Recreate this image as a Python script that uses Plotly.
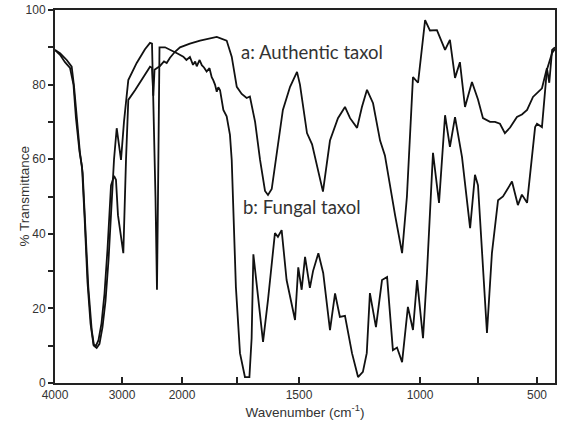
import numpy as np
import plotly.graph_objects as go

# Axis break: piecewise scale (wavenumber -> position along axis)
axis_knots_wn = [4000, 3000, 2000, 1750, 1500, 1000, 750, 500, 400]
axis_knots_pos = [0, 67, 127, 182, 244, 365, 423, 482, 505.6]

tick_values = [4000, 3000, 2000, 1500, 1000, 500]
tick_labels = ["4000", "3000", "2000", "1500", "1000", "500"]
minor_tick_values = [1750, 750]

y_tick_values = [0, 20, 40, 60, 80, 100]
y_minor_values = [10, 30, 50, 70, 90]

# a: Authentic taxol
wn_a = [4000, 3925, 3851, 3776, 3724, 3687, 3634, 3597, 3560, 3515, 3470, 3425, 3388, 3351,
        3306, 3261, 3216, 3164, 3119, 3090, 3060, 2978, 2933, 2895, 2783, 2667, 2533, 2500,
        2478, 2458, 2367, 2300, 2255, 2200, 2117, 2033, 1964, 1918, 1873, 1842, 1797, 1774, 1751, 1731,
        1711, 1698, 1677, 1657, 1637, 1625, 1610, 1590, 1565, 1536, 1508, 1496, 1467, 1446,
        1401, 1372, 1339, 1310, 1289, 1260, 1240, 1219, 1194, 1165, 1145, 1103, 1074, 1054,
        1029, 1008, 978, 957, 927, 892, 871, 849, 828, 806, 776, 750, 729, 699, 678, 657,
        636, 614, 585, 564, 542, 517, 479, 458, 448, 436, 424]
t_a = [89.3, 88.0, 86.0, 84.5, 80.0, 71.0, 62.0, 58.0, 45.0, 27.0, 16.0, 10.2, 10.0, 11.5,
       16.0, 24.0, 36.0, 53.0, 55.5, 54.5, 45.0, 34.8, 60.0, 75.9, 78.5, 81.5, 84.8, 84.5,
       77.0, 84.0, 85.0, 86.2, 85.8, 87.2, 88.8, 90.0, 91.0, 91.8, 92.5, 92.8, 91.8, 87.5, 79.4, 77.5,
       76.4, 76.8, 70.0, 59.8, 51.5, 50.4, 52.0, 61.6, 73.2, 79.4, 83.4, 80.0, 67.0, 64.0,
       51.3, 65.0, 71.0, 74.0, 71.0, 68.4, 74.0, 78.6, 75.0, 65.0, 61.0, 45.0, 34.8, 50.0,
       82.0, 80.5, 97.3, 94.5, 94.6, 89.3, 92.0, 81.8, 86.0, 74.0, 80.7, 76.0, 71.0, 70.0,
       70.0, 69.5, 67.0, 68.5, 71.3, 72.0, 73.2, 76.7, 79.0, 84.4, 80.5, 89.3, 90.0]

# b: Fungal taxol
wn_b = [4000, 3925, 3825, 3751, 3716, 3676, 3627, 3587, 3552, 3503, 3452, 3418, 3378, 3336,
        3291, 3246, 3201, 3154, 3119, 3079, 3045, 3015, 2967, 2895, 2755, 2617, 2533, 2500,
        2442, 2417, 2400, 2375, 2283, 2117, 2083, 1994, 1980, 1964, 1950, 1940, 1933, 1920, 1910,
        1900, 1888, 1875, 1865, 1858, 1850, 1842, 1835,
        1827, 1812, 1797, 1782, 1774, 1767, 1755, 1738, 1718, 1700, 1691, 1684, 1665, 1645,
        1625, 1597, 1585, 1570, 1550, 1528, 1516, 1503, 1489, 1475, 1455, 1442, 1420, 1400,
        1372, 1351, 1331, 1310, 1281, 1256, 1236, 1220, 1207, 1182, 1157, 1136, 1112, 1095,
        1074, 1050, 1029, 1012, 987, 970, 944, 918, 892, 871, 849, 819, 784, 763, 750, 712,
        691, 665, 644, 606, 581, 564, 542, 508, 500, 479, 458, 436, 424]
t_b = [89.3, 88.4, 86.6, 84.8, 79.5, 70.5, 61.6, 56.3, 43.7, 25.7, 14.2, 10.0, 9.4, 10.5,
       15.0, 22.0, 33.0, 50.9, 60.0, 68.3, 64.0, 59.8, 70.0, 81.2, 85.8, 89.5, 91.2, 91.0,
       50.0, 25.0, 50.0, 90.0, 90.0, 88.8, 88.4, 87.5, 86.6, 87.4, 85.3, 86.2, 84.9, 86.6, 85.2,
       84.6, 83.5, 84.4, 82.0, 81.2, 80.0, 78.1, 79.3,
       78.5, 73.2, 71.5, 66.5, 59.8, 47.3, 25.7, 8.0, 1.6, 1.6, 12.0, 34.5, 22.3, 11.0,
       22.3, 40.2, 39.2, 41.0, 27.6, 20.4, 16.9, 31.0, 25.0, 33.8, 25.5, 30.0, 34.8, 29.5,
       14.2, 24.0, 17.7, 18.0, 8.0, 1.6, 3.0, 8.0, 24.1, 15.0, 27.6, 28.4, 8.8, 9.5,
       5.6, 20.4, 14.2, 27.6, 12.0, 29.5, 61.7, 48.3, 71.8, 63.3, 71.3, 60.6, 41.5, 55.8, 53.0, 13.4,
       34.8, 49.0, 50.0, 54.0, 47.7, 50.5, 48.3, 68.6, 69.5, 68.6, 84.0, 88.5, 89.5]


def to_pos(wn):
    wn = np.asarray(wn, dtype=float)
    return np.interp(-wn, -np.array(axis_knots_wn, dtype=float), axis_knots_pos)


fig = go.Figure()
for wn, t in [(wn_a, t_a), (wn_b, t_b)]:
    fig.add_trace(go.Scatter(x=to_pos(wn), y=t, mode="lines",
                             line=dict(color="#111111", width=1.8),
                             showlegend=False, hoverinfo="skip"))

tick_font = dict(family="Liberation Sans, Arial, sans-serif", size=12, color="#333333")
title_font = dict(family="Liberation Sans, Arial, sans-serif", size=13.5, color="#333333")
label_font = dict(family="Lato, sans-serif", size=18.5, color="#333333")

fig.update_layout(
    width=561, height=424,
    margin=dict(l=55, r=6, t=10, b=41),
    paper_bgcolor="white", plot_bgcolor="white",
    xaxis=dict(range=[0, 500], tickmode="array", tickvals=to_pos(tick_values).tolist(),
               ticktext=tick_labels, ticks="inside", ticklen=6, tickwidth=1.5,
               tickcolor="#222222", showline=True, linewidth=2, linecolor="#222222",
               mirror=True, showgrid=False, zeroline=False, tickfont=tick_font,
               automargin=False,
               title=dict(text="Wavenumber (cm<sup>-1</sup>)", font=title_font, standoff=0),
               minor=dict(tickmode="array", tickvals=to_pos(minor_tick_values).tolist(),
                          ticks="inside", ticklen=6, tickwidth=1.5, tickcolor="#222222",
                          showgrid=False)),
    yaxis=dict(range=[0, 100], tickmode="array", tickvals=y_tick_values,
               ticks="outside", ticklen=5, tickwidth=1.5, tickcolor="#222222",
               showline=True, linewidth=2, linecolor="#222222", mirror=True,
               showgrid=False, zeroline=False, tickfont=tick_font, automargin=False,
               minor=dict(tickmode="array", tickvals=y_minor_values, ticks="outside",
                          ticklen=5, tickwidth=1.5, tickcolor="#222222", showgrid=False)),
    annotations=[
        dict(text="a: Authentic taxol", x=184, y=88.7, xref="x", yref="y",
             xanchor="left", yanchor="middle", showarrow=False, font=label_font),
        dict(text="b: Fungal taxol", x=186, y=47.2, xref="x", yref="y",
             xanchor="left", yanchor="middle", showarrow=False, font=label_font),
        dict(text="% Transmittance", x=-0.062, y=0.5, xref="paper", yref="paper",
             textangle=-90, xanchor="center", yanchor="middle", showarrow=False,
             font=title_font),
    ],
)

fig.write_html("out.html")
